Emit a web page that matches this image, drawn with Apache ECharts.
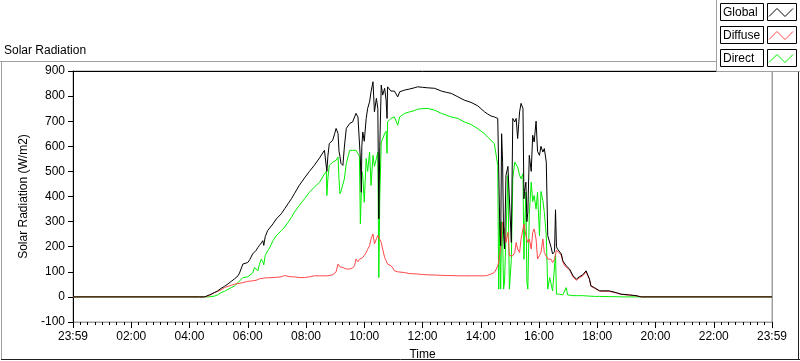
<!DOCTYPE html>
<html>
<head>
<meta charset="utf-8">
<script src="https://cdn.jsdelivr.net/npm/echarts@6/dist/echarts.min.js"></script>
<style>html,body{margin:0;padding:0;background:#fff;}#c{width:800px;height:361px;}</style>
</head>
<body>
<div id="c"></div>
<script>
// time in minutes since midnight
const times = [0,260,271,281,291,298,305,312,319,326,333,340,343,350,353,360,364,370,374,377,381,384,388,391,393,396,401,405,412,419,429,436,443,450,456,466,477,487,497,508,518,522,523,525,528,535,539,542,546,548,550,552,556,559,563,570,576,580,583,587,590,592,594,595,597,600,604,607,611,614,618,621,625,628,630,632,635,638,642,645,647,648,652,655,659,662,669,673,683,693,703,710,720,731,745,759,769,779,793,806,820,834,848,854,861,868,872,875,877,879,881,883,885,887,889,892,896,899,903,906,910,913,916,920,923,927,929,930,933,935,937,940,944,947,950,954,957,961,964,968,971,975,978,982,985,988,992,994,996,998,1002,1006,1009,1012,1016,1019,1023,1030,1037,1043,1050,1057,1060,1064,1067,1074,1085,1105,1119,1129,1146,1160,1171,1440];
const globalVals = [0,0,0,8,17,24,34,42,51,62,72,84,95,131,128,137,148,171,175,185,197,205,215,224,205,240,264,270,291,311,331,351,371,391,411,444,474,500,524,554,584,591,500,560,611,624,650,671,651,580,560,532,524,597,671,691,697,704,731,717,724,550,417,600,657,620,711,751,777,817,857,737,791,751,311,600,844,804,831,784,711,837,830,820,817,820,797,817,824,828,833,837,835,833,831,820,815,811,797,784,775,761,737,729,721,717,711,711,717,300,204,650,537,250,191,484,520,524,217,711,697,711,631,737,771,751,391,420,457,300,337,564,500,644,617,700,580,564,600,577,591,537,244,240,197,171,180,347,200,191,184,171,144,135,124,118,111,84,71,80,88,104,97,71,44,37,24,24,17,11,8,5,0,0];
const diffuseVals = [0,0,0,5,17,22,28,37,42,46,51,53,55,57,57,62,62,64,64,66,70,72,75,74,75,76,76,77,77,78,80,85,82,80,80,77,77,80,84,84,84,85,84,84,86,88,91,100,131,125,120,118,117,113,111,111,115,124,151,140,150,150,155,157,157,165,177,190,204,231,251,211,231,245,251,240,217,190,157,145,140,131,128,124,115,104,100,100,97,93,92,91,89,88,87,86,85,85,84,84,84,84,84,86,91,97,111,124,140,164,200,260,297,280,271,217,257,164,170,164,177,217,191,177,230,271,290,284,244,230,217,230,191,257,271,230,151,165,177,231,177,170,151,144,150,137,150,170,185,180,175,165,140,128,118,112,108,80,66,76,84,100,94,70,42,35,23,22,16,10,7,4,0,0];
const directVals = [0,0,0,0,3,8,17,22,30,37,44,57,62,77,78,80,84,95,117,110,104,130,151,140,128,165,184,195,224,244,264,278,297,317,337,364,391,417,437,457,490,500,404,470,524,537,544,544,557,470,411,420,417,470,531,584,584,584,584,577,560,291,420,500,484,377,551,500,577,444,564,520,551,577,77,400,617,630,651,660,572,697,700,711,714,717,684,717,731,737,742,748,750,751,744,731,724,717,711,697,687,670,650,637,624,611,604,524,31,300,31,300,250,31,60,250,484,31,150,471,537,544,517,484,471,491,150,244,417,60,31,330,457,380,404,350,417,244,420,384,337,244,31,77,51,24,30,171,11,11,11,8,8,11,37,8,8,5,5,5,5,4,4,3,3,2,2,1,1,0,0,0,0,0];
const xTickLabels = ['23:59','02:00','04:00','06:00','08:00','10:00','12:00','14:00','16:00','18:00','20:00','22:00','23:59'];
const legendNames = ['Global','Diffuse','Direct'];
const seriesColors = ['#000000','#ff4848','#00ee00'];

const FONT = 'Liberation Sans';
function pairs(vals){ return times.map((t,i)=>[t, vals[i]]); }

const chart = echarts.init(document.getElementById('c'), null, {renderer:'canvas'});

const legendGraphics = [];
legendGraphics.push({type:'rect', z:100, shape:{x:716.5, y:-1, width:90, height:72.5}, style:{fill:'#fff', stroke:'#a0a0a0', lineWidth:1}});
const rowsY = [3.5, 26.5, 49.5];
legendNames.forEach((name,i)=>{
  const y0 = rowsY[i];
  legendGraphics.push({type:'rect', z:101, shape:{x:720.5, y:y0, width:43, height:17}, style:{fill:'#fff', stroke:'#000', lineWidth:1}});
  legendGraphics.push({type:'text', z:102, x:723, y:y0+9, style:{text:name, fill:'#000', font:'12px "'+FONT+'"', verticalAlign:'middle', align:'left'}});
  legendGraphics.push({type:'rect', z:101, shape:{x:767.5, y:y0, width:29, height:17}, style:{fill:'#fff', stroke:'#000', lineWidth:1}});
  legendGraphics.push({type:'polyline', z:102, shape:{points:[[769,y0+13],[777,y0+5],[785,y0+13],[793,y0+5]]}, style:{stroke:seriesColors[i], lineWidth:1, fill:null}});
});

const frameGraphics = [
  {type:'line', z:50, shape:{x1:0, y1:61.5, x2:720, y2:61.5}, style:{stroke:'#a0a0a0', lineWidth:1}},
  {type:'line', z:50, shape:{x1:1.5, y1:61, x2:1.5, y2:360}, style:{stroke:'#a0a0a0', lineWidth:1}},
  {type:'line', z:50, shape:{x1:1, y1:359.5, x2:800, y2:359.5}, style:{stroke:'#202020', lineWidth:1}},
  {type:'line', z:50, shape:{x1:798.5, y1:62, x2:798.5, y2:360}, style:{stroke:'#202020', lineWidth:1}}
];

chart.setOption({
  animation:false,
  backgroundColor:'#fff',
  textStyle:{fontFamily:FONT},
  title:{text:'Solar Radiation', left:4, top:45, padding:0, textStyle:{fontSize:12, fontWeight:'normal', color:'#000', fontFamily:FONT}},
  grid:{left:73, top:71, right:28, bottom:39, containLabel:false, outerBoundsMode:'none', show:true, borderColor:'#a0a0a0', borderWidth:1, backgroundColor:'#fff'},
  xAxis:[{
    type:'value', position:'bottom', min:0, max:1440, interval:120,
    name:'Time', nameLocation:'middle', nameGap:27, nameTextStyle:{fontSize:12, color:'#000', fontFamily:FONT},
    axisLine:{show:true, onZero:false, lineStyle:{color:'#a0a0a0', width:1}},
    axisTick:{show:true, length:6, lineStyle:{color:'#000', width:1}},
    minorTick:{show:true, splitNumber:8, length:3, lineStyle:{color:'#000', width:1}},
    splitLine:{show:false}, minorSplitLine:{show:false},
    axisLabel:{margin:9, fontSize:12, color:'#000', fontFamily:FONT, formatter:(v)=>xTickLabels[Math.round(v/120)]}
  },{
    type:'value', position:'top', min:0, max:1440,
    axisLine:{show:true, onZero:false, lineStyle:{color:'#000', width:1}},
    axisTick:{show:false}, axisLabel:{show:false}, splitLine:{show:false}
  }],
  yAxis:[{
    type:'value', position:'left', min:-100, max:900, interval:100,
    name:'Solar Radiation (W/m2)', nameLocation:'middle', nameGap:40, nameRotate:90,
    nameTextStyle:{fontSize:12, color:'#000', fontFamily:FONT},
    axisLine:{show:true, onZero:false, lineStyle:{color:'#000', width:1}},
    axisTick:{show:true, length:5, lineStyle:{color:'#000', width:1}},
    splitLine:{show:false},
    axisLabel:{margin:8, fontSize:12, color:'#000', fontFamily:FONT}
  },{
    type:'value', position:'right', min:-100, max:900,
    axisLine:{show:true, onZero:false, lineStyle:{color:'#a0a0a0', width:1}},
    axisTick:{show:false}, axisLabel:{show:false}, splitLine:{show:false}
  }],
  series:[
    {name:'Direct', type:'line', xAxisIndex:0, yAxisIndex:0, data:pairs(directVals), showSymbol:false, symbol:'none', lineStyle:{color:seriesColors[2], width:1}, itemStyle:{color:seriesColors[2]}, z:2},
    {name:'Diffuse', type:'line', xAxisIndex:0, yAxisIndex:0, data:pairs(diffuseVals), showSymbol:false, symbol:'none', lineStyle:{color:seriesColors[1], width:1}, itemStyle:{color:seriesColors[1]}, z:3},
    {name:'Global', type:'line', xAxisIndex:0, yAxisIndex:0, data:pairs(globalVals), showSymbol:false, symbol:'none', lineStyle:{color:seriesColors[0], width:1}, itemStyle:{color:seriesColors[0]}, z:4}
  ],
  graphic:frameGraphics.concat(legendGraphics)
});
</script>
</body>
</html>
